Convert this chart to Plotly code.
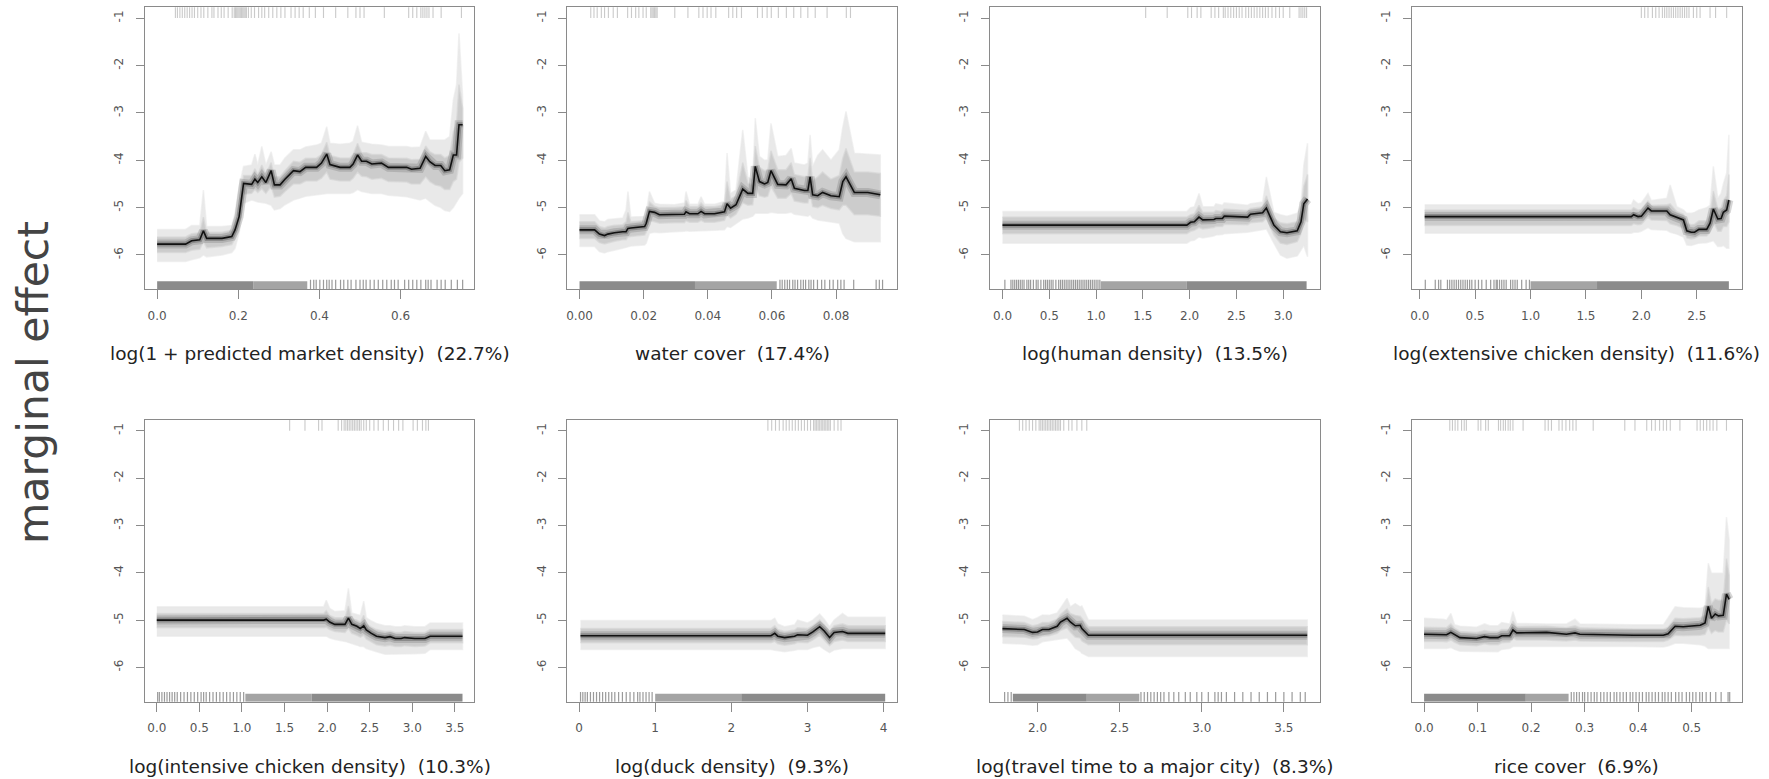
import plotly.graph_objects as go

# ---------------------------------------------------------------
# Partial-dependence data: covariate value, mean marginal effect,
# outer and inner quantile envelopes
# ---------------------------------------------------------------

# 1. log(1 + predicted market density)
market_x = [0.000, 0.070, 0.085, 0.105, 0.114, 0.122, 0.160, 0.184, 0.192, 0.202, 0.213, 0.233, 0.241, 0.248, 0.258,
            0.268, 0.281, 0.289, 0.303, 0.315, 0.336, 0.352, 0.366, 0.393, 0.405, 0.418, 0.426, 0.451, 0.475, 0.483,
            0.494, 0.504, 0.516, 0.529, 0.553, 0.570, 0.615, 0.627, 0.648, 0.662, 0.672, 0.685, 0.699, 0.709, 0.721,
            0.730, 0.738, 0.744, 0.753]
market_mean = [-5.77, -5.77, -5.70, -5.68, -5.49, -5.65, -5.65, -5.61, -5.47, -5.19, -4.49, -4.51, -4.40, -4.47, -4.35,
               -4.47, -4.22, -4.52, -4.52, -4.40, -4.22, -4.24, -4.15, -4.15, -4.06, -3.87, -4.09, -4.15, -4.15, -4.08,
               -3.89, -4.02, -4.02, -4.08, -4.06, -4.15, -4.15, -4.19, -4.17, -3.92, -4.03, -4.11, -4.11, -4.22, -4.20,
               -3.89, -3.89, -3.25, -3.25]
market_lo = [-6.14, -6.14, -6.10, -6.06, -6.00, -6.04, -6.00, -5.95, -5.86, -5.54, -4.91, -4.84, -4.86, -4.88, -4.90,
             -4.91, -4.95, -5.05, -5.02, -4.94, -4.84, -4.80, -4.76, -4.73, -4.72, -4.70, -4.70, -4.70, -4.70, -4.68,
             -4.62, -4.66, -4.68, -4.70, -4.70, -4.74, -4.77, -4.80, -4.84, -4.80, -4.87, -4.95, -5.00, -5.06, -5.08,
             -5.00, -4.90, -4.80, -4.70]
market_hi = [-5.46, -5.46, -5.38, -5.38, -4.63, -5.40, -5.40, -5.38, -5.12, -4.56, -4.13, -4.10, -3.87, -4.10, -3.71,
             -4.10, -3.82, -4.10, -4.10, -3.95, -3.78, -3.78, -3.72, -3.68, -3.64, -3.29, -3.64, -3.66, -3.64, -3.60,
             -3.27, -3.62, -3.64, -3.66, -3.68, -3.71, -3.71, -3.73, -3.72, -3.39, -3.57, -3.57, -3.57, -3.57, -3.50,
             -2.73, -2.40, -1.32, -2.65]
market_lo_in = [-5.95, -5.95, -5.90, -5.88, -5.72, -5.85, -5.82, -5.78, -5.65, -5.38, -4.72, -4.70, -4.62, -4.68, -4.60,
                -4.70, -4.55, -4.78, -4.76, -4.66, -4.50, -4.50, -4.44, -4.44, -4.38, -4.25, -4.40, -4.44, -4.44, -4.38,
                -4.25, -4.34, -4.35, -4.40, -4.38, -4.45, -4.46, -4.50, -4.50, -4.35, -4.45, -4.52, -4.55, -4.62, -4.62,
                -4.45, -4.40, -4.05, -3.95]
market_hi_in = [-5.62, -5.62, -5.55, -5.53, -5.20, -5.52, -5.52, -5.48, -5.30, -4.90, -4.32, -4.32, -4.18, -4.30, -4.10,
                -4.30, -4.05, -4.35, -4.35, -4.22, -4.02, -4.04, -3.96, -3.95, -3.88, -3.62, -3.90, -3.95, -3.95, -3.88,
                -3.64, -3.84, -3.84, -3.88, -3.88, -3.95, -3.96, -3.99, -3.98, -3.70, -3.82, -3.88, -3.88, -3.95, -3.90,
                -3.40, -3.20, -2.40, -2.90]

# 2. water cover
water_x = [0.0000, 0.0047, 0.0062, 0.0078, 0.0088, 0.0109, 0.0135, 0.0145, 0.0151, 0.0160, 0.0203, 0.0208, 0.0218,
           0.0234, 0.0249, 0.0296, 0.0327, 0.0332, 0.0343, 0.0369, 0.0379, 0.0390, 0.0421, 0.0452, 0.0460, 0.0471,
           0.0488, 0.0509, 0.0525, 0.0540, 0.0548, 0.0561, 0.0577, 0.0587, 0.0597, 0.0618, 0.0644, 0.0660, 0.0670,
           0.0701, 0.0712, 0.0719, 0.0727, 0.0743, 0.0758, 0.0784, 0.0810, 0.0821, 0.0831, 0.0857, 0.0899, 0.0938]
water_mean = [-5.47, -5.47, -5.56, -5.59, -5.56, -5.53, -5.51, -5.51, -5.44, -5.43, -5.40, -5.33, -5.08,
              -5.10, -5.15, -5.14, -5.14, -5.09, -5.13, -5.13, -5.08, -5.13, -5.13, -5.09, -4.92, -5.01,
              -4.94, -4.61, -4.70, -4.70, -4.13, -4.45, -4.50, -4.47, -4.22, -4.51, -4.52, -4.39, -4.59,
              -4.64, -4.64, -4.35, -4.73, -4.75, -4.68, -4.75, -4.77, -4.45, -4.35, -4.68, -4.68, -4.73]
water_hi = [-5.15, -5.15, -5.28, -5.30, -5.25, -5.23, -5.22, -5.05, -4.66, -5.20, -5.19, -5.10, -4.66,
            -4.91, -4.93, -4.94, -4.90, -4.66, -4.93, -4.93, -4.77, -4.93, -4.93, -4.87, -3.85, -4.70,
            -4.63, -3.36, -4.35, -4.42, -3.11, -3.92, -4.00, -3.99, -3.22, -3.92, -3.90, -3.75, -4.06,
            -4.10, -4.06, -3.46, -4.13, -3.90, -3.78, -4.00, -3.78, -3.30, -2.97, -3.85, -3.87, -3.89]
water_lo = [-5.82, -5.82, -5.93, -5.96, -5.93, -5.89, -5.86, -5.84, -5.82, -5.81, -5.79, -5.75, -5.54,
            -5.52, -5.53, -5.51, -5.50, -5.49, -5.50, -5.49, -5.48, -5.49, -5.48, -5.47, -5.40, -5.42,
            -5.35, -5.24, -5.22, -5.18, -5.12, -5.12, -5.12, -5.12, -5.10, -5.12, -5.12, -5.10, -5.14,
            -5.17, -5.18, -5.15, -5.22, -5.26, -5.27, -5.30, -5.33, -5.55, -5.65, -5.72, -5.72, -5.72]
water_lo_in = [-5.65, -5.65, -5.74, -5.77, -5.74, -5.71, -5.68, -5.68, -5.62, -5.61, -5.58, -5.52, -5.28,
               -5.30, -5.33, -5.32, -5.32, -5.28, -5.31, -5.31, -5.27, -5.31, -5.31, -5.27, -5.15, -5.22,
               -5.14, -4.90, -4.95, -4.94, -4.55, -4.75, -4.78, -4.76, -4.55, -4.80, -4.80, -4.70, -4.86,
               -4.90, -4.90, -4.70, -4.98, -5.00, -4.95, -5.02, -5.05, -4.95, -4.95, -5.15, -5.15, -5.18]
water_hi_in = [-5.30, -5.30, -5.40, -5.43, -5.40, -5.37, -5.36, -5.30, -5.10, -5.30, -5.27, -5.18, -4.88,
               -4.97, -5.00, -5.00, -4.98, -4.85, -4.98, -4.98, -4.90, -4.98, -4.98, -4.94, -4.45, -4.82,
               -4.75, -4.05, -4.48, -4.52, -3.70, -4.15, -4.22, -4.20, -3.80, -4.20, -4.20, -4.05, -4.30,
               -4.35, -4.33, -3.95, -4.43, -4.35, -4.25, -4.40, -4.32, -3.95, -3.75, -4.25, -4.25, -4.28]

# 3. log(human density)
human_x = [0.00, 1.97, 2.01, 2.05, 2.10, 2.14, 2.26, 2.28, 2.35, 2.37, 2.62, 2.65, 2.78, 2.82, 2.90, 2.97, 3.04,
           3.15, 3.19, 3.22, 3.26]
human_mean = [-5.37, -5.37, -5.31, -5.30, -5.20, -5.26, -5.25, -5.23, -5.23, -5.18, -5.20, -5.14, -5.11, -5.01,
              -5.37, -5.51, -5.53, -5.49, -5.30, -4.92, -4.82]
human_hi = [-5.08, -5.08, -5.00, -4.98, -4.70, -4.98, -4.98, -4.92, -4.95, -4.90, -4.95, -4.92, -4.88, -4.35,
            -5.10, -5.15, -5.18, -5.12, -4.95, -4.10, -3.64]
human_lo = [-5.75, -5.75, -5.70, -5.69, -5.62, -5.64, -5.60, -5.58, -5.57, -5.55, -5.52, -5.50, -5.47, -5.45,
            -5.75, -6.00, -6.07, -6.02, -5.90, -5.80, -6.04]
human_lo_in = [-5.55, -5.55, -5.50, -5.48, -5.42, -5.45, -5.42, -5.40, -5.40, -5.35, -5.36, -5.32, -5.30, -5.22,
               -5.58, -5.75, -5.78, -5.72, -5.55, -5.25, -5.30]
human_hi_in = [-5.20, -5.20, -5.15, -5.13, -4.95, -5.10, -5.10, -5.06, -5.08, -5.03, -5.06, -5.02, -4.98, -4.75,
               -5.22, -5.32, -5.34, -5.30, -5.10, -4.55, -4.30]

# 4. log(extensive chicken density)
ext_x = [0.045, 1.91, 1.93, 1.97, 2.00, 2.06, 2.09, 2.23, 2.26, 2.32, 2.38, 2.41, 2.45, 2.48, 2.52, 2.59, 2.62,
         2.65, 2.69, 2.72, 2.74, 2.77, 2.79]
ext_mean = [-5.19, -5.19, -5.15, -5.19, -5.18, -5.01, -5.07, -5.07, -5.15, -5.21, -5.26, -5.49, -5.52, -5.52,
            -5.46, -5.46, -5.33, -5.03, -5.24, -5.23, -5.10, -5.05, -4.84]
ext_hi = [-4.94, -4.94, -4.84, -4.92, -4.90, -4.70, -4.85, -4.80, -4.52, -4.98, -5.05, -5.12, -5.12, -5.10,
          -5.05, -5.00, -4.95, -4.13, -4.80, -4.70, -4.50, -4.27, -3.46]
ext_lo = [-5.54, -5.54, -5.52, -5.52, -5.50, -5.42, -5.46, -5.48, -5.52, -5.56, -5.62, -5.79, -5.80, -5.78,
          -5.75, -5.74, -5.72, -5.70, -5.82, -5.82, -5.80, -5.86, -5.86]
ext_lo_in = [-5.38, -5.38, -5.34, -5.36, -5.35, -5.20, -5.26, -5.27, -5.34, -5.38, -5.44, -5.64, -5.66, -5.65,
             -5.60, -5.60, -5.52, -5.30, -5.50, -5.50, -5.40, -5.40, -5.30]
ext_hi_in = [-5.05, -5.05, -5.00, -5.05, -5.04, -4.86, -4.95, -4.94, -4.92, -5.08, -5.14, -5.33, -5.36, -5.35,
             -5.28, -5.28, -5.15, -4.65, -5.02, -5.00, -4.85, -4.75, -4.30]

# 5. log(intensive chicken density)
int_x = [0.00, 1.96, 1.99, 2.03, 2.09, 2.21, 2.25, 2.29, 2.35, 2.39, 2.43, 2.46, 2.52, 2.58, 2.68, 2.74, 2.80,
         2.87, 2.91, 3.03, 3.15, 3.21, 3.59]
int_mean = [-5.00, -5.00, -4.98, -5.04, -5.09, -5.09, -4.96, -5.09, -5.13, -5.18, -5.12, -5.21, -5.28, -5.34,
            -5.37, -5.35, -5.39, -5.39, -5.37, -5.39, -5.39, -5.34, -5.34]
int_hi = [-4.72, -4.72, -4.58, -4.75, -4.82, -4.80, -4.33, -4.85, -4.88, -4.90, -4.60, -4.95, -5.02, -5.07,
          -5.12, -5.12, -5.14, -5.14, -5.12, -5.14, -5.14, -5.06, -5.06]
int_lo = [-5.34, -5.34, -5.34, -5.38, -5.41, -5.45, -5.48, -5.50, -5.53, -5.56, -5.56, -5.60, -5.64, -5.67,
          -5.72, -5.71, -5.72, -5.72, -5.71, -5.71, -5.70, -5.62, -5.62]
int_lo_in = [-5.16, -5.16, -5.15, -5.20, -5.24, -5.26, -5.18, -5.28, -5.32, -5.36, -5.32, -5.40, -5.46, -5.52,
             -5.55, -5.53, -5.56, -5.56, -5.54, -5.56, -5.55, -5.48, -5.48]
int_hi_in = [-4.86, -4.86, -4.80, -4.90, -4.95, -4.95, -4.70, -4.97, -5.00, -5.04, -4.90, -5.08, -5.15, -5.20,
             -5.24, -5.23, -5.26, -5.26, -5.24, -5.26, -5.26, -5.20, -5.20]

# 6. log(duck density)
duck_x = [0.02, 2.52, 2.57, 2.61, 2.70, 2.83, 2.87, 3.00, 3.07, 3.16, 3.22, 3.29, 3.35, 3.46, 3.53, 4.02]
duck_mean = [-5.33, -5.33, -5.28, -5.34, -5.37, -5.34, -5.31, -5.32, -5.25, -5.14, -5.23, -5.37, -5.26, -5.24,
             -5.28, -5.28]
duck_hi = [-5.01, -5.01, -4.96, -5.08, -5.14, -5.10, -5.00, -5.06, -5.00, -4.87, -4.98, -5.14, -5.00, -4.86,
           -4.94, -4.94]
duck_lo = [-5.62, -5.62, -5.64, -5.66, -5.67, -5.64, -5.62, -5.62, -5.58, -5.55, -5.62, -5.69, -5.63, -5.60,
           -5.60, -5.60]
duck_lo_in = [-5.48, -5.48, -5.45, -5.50, -5.53, -5.50, -5.47, -5.48, -5.42, -5.32, -5.42, -5.54, -5.45, -5.42,
              -5.45, -5.45]
duck_hi_in = [-5.18, -5.18, -5.12, -5.20, -5.24, -5.21, -5.16, -5.18, -5.12, -5.00, -5.10, -5.24, -5.12, -5.08,
              -5.12, -5.12]

# 7. log(travel time to a major city)
travel_x = [1.787, 1.92, 1.97, 2.00, 2.03, 2.07, 2.12, 2.14, 2.18, 2.20, 2.23, 2.26, 2.27, 2.31, 3.642]
travel_mean = [-5.18, -5.20, -5.26, -5.25, -5.20, -5.20, -5.13, -5.04, -4.96, -5.04, -5.12, -5.11, -5.18, -5.32, -5.32]
travel_hi = [-4.89, -4.92, -4.99, -4.95, -4.89, -4.90, -4.85, -4.75, -4.54, -4.72, -4.65, -4.72, -4.70, -5.00, -5.00]
travel_lo = [-5.49, -5.51, -5.53, -5.52, -5.46, -5.44, -5.42, -5.40, -5.38, -5.45, -5.60, -5.66, -5.70, -5.77, -5.77]
travel_lo_in = [-5.35, -5.36, -5.40, -5.39, -5.34, -5.33, -5.28, -5.22, -5.16, -5.25, -5.36, -5.38, -5.44, -5.52,
                -5.52]
travel_hi_in = [-5.03, -5.05, -5.12, -5.10, -5.05, -5.05, -4.98, -4.88, -4.76, -4.86, -4.90, -4.92, -4.96, -5.14,
                -5.14]

# 8. rice cover
rice_x = [0.000, 0.036, 0.042, 0.050, 0.057, 0.067, 0.098, 0.113, 0.123, 0.138, 0.145, 0.160, 0.166, 0.173, 0.229,
          0.266, 0.282, 0.291, 0.391, 0.447, 0.456, 0.469, 0.484, 0.516, 0.525, 0.531, 0.537, 0.544, 0.550, 0.559,
          0.565, 0.570]
rice_mean = [-5.30, -5.30, -5.31, -5.26, -5.31, -5.37, -5.39, -5.35, -5.37, -5.37, -5.33, -5.33, -5.21, -5.27, -5.26,
             -5.30, -5.27, -5.30, -5.32, -5.32, -5.29, -5.13, -5.14, -5.11, -5.06, -4.71, -4.96, -4.87, -4.91, -4.90,
             -4.45, -4.56]
rice_hi = [-4.96, -4.98, -5.00, -4.86, -5.10, -5.13, -5.15, -5.08, -5.12, -5.12, -5.05, -5.08, -4.82, -5.07, -5.08,
           -5.08, -4.98, -5.08, -5.10, -5.10, -4.95, -4.72, -4.74, -4.75, -4.72, -3.80, -4.01, -4.01, -4.01, -4.01,
           -2.82, -3.31]
rice_lo = [-5.60, -5.60, -5.60, -5.58, -5.62, -5.66, -5.67, -5.66, -5.67, -5.67, -5.62, -5.60, -5.56, -5.56, -5.56,
           -5.56, -5.56, -5.56, -5.56, -5.57, -5.55, -5.49, -5.49, -5.52, -5.55, -5.60, -5.60, -5.60, -5.60, -5.60,
           -5.60, -5.60]
rice_lo_in = [-5.45, -5.45, -5.46, -5.42, -5.47, -5.52, -5.54, -5.50, -5.52, -5.52, -5.48, -5.47, -5.38, -5.42, -5.42,
              -5.44, -5.42, -5.44, -5.45, -5.45, -5.42, -5.32, -5.33, -5.32, -5.30, -5.15, -5.28, -5.22, -5.25, -5.25,
              -5.00, -5.08]
rice_hi_in = [-5.15, -5.15, -5.16, -5.08, -5.17, -5.24, -5.26, -5.22, -5.24, -5.24, -5.20, -5.20, -5.02, -5.14, -5.13,
              -5.16, -5.12, -5.16, -5.19, -5.19, -5.15, -4.96, -4.97, -4.95, -4.90, -4.30, -4.65, -4.55, -4.58, -4.57,
              -3.70, -4.05]

# ---------------------------------------------------------------
# Rugs: occurrence sites (top) and background sites (bottom).
# Dense runs of background sites are given as [from, to] spans.
# ---------------------------------------------------------------
market_rug_top = [0.045, 0.05, 0.056, 0.062, 0.068, 0.074, 0.08, 0.086, 0.092, 0.1, 0.108, 0.115, 0.125, 0.135, 0.14,
                  0.15, 0.158, 0.165, 0.175, 0.185, 0.19, 0.193, 0.196, 0.199, 0.202, 0.205, 0.208, 0.211, 0.214,
                  0.217, 0.22, 0.225, 0.232, 0.24, 0.25, 0.258, 0.265, 0.275, 0.285, 0.295, 0.305, 0.315, 0.33, 0.34,
                  0.35, 0.36, 0.375, 0.39, 0.41, 0.44, 0.47, 0.49, 0.5, 0.51, 0.56, 0.62, 0.63, 0.64, 0.65, 0.655,
                  0.66, 0.665, 0.67, 0.68, 0.7, 0.75]
market_rug_bottom = [0.378, 0.386, 0.392, 0.401, 0.41, 0.418, 0.424, 0.431, 0.44, 0.452, 0.46, 0.47, 0.478, 0.49,
                     0.5, 0.508, 0.515, 0.525, 0.535, 0.545, 0.556, 0.566, 0.577, 0.585, 0.594, 0.61, 0.62, 0.63,
                     0.64, 0.65, 0.662, 0.668, 0.675, 0.69, 0.7, 0.71, 0.725, 0.74, 0.753]
market_span_dark = [[0.0, 0.237]]
market_span_light = [[0.237, 0.37]]

water_rug_top = [0.0035, 0.0045, 0.0055, 0.0068, 0.0078, 0.009, 0.0105, 0.0118, 0.015, 0.0162, 0.0175, 0.0185,
                 0.0198, 0.0208, 0.0222, 0.0226, 0.023, 0.0234, 0.0238, 0.0242, 0.0297, 0.0338, 0.0372, 0.0385,
                 0.0398, 0.041, 0.0425, 0.0465, 0.0478, 0.049, 0.0505, 0.0555, 0.057, 0.0585, 0.0598, 0.062,
                 0.0645, 0.0668, 0.069, 0.0712, 0.0735, 0.0772, 0.0832, 0.0845]
water_rug_bottom = [0.0625, 0.0632, 0.064, 0.0648, 0.0655, 0.0665, 0.0672, 0.068, 0.069, 0.0698, 0.0705, 0.0715,
                    0.0722, 0.073, 0.0742, 0.0755, 0.0765, 0.078, 0.0791, 0.0805, 0.0815, 0.0825, 0.0855, 0.0925,
                    0.0935, 0.0945]
water_span_dark = [[0.0, 0.036]]
water_span_light = [[0.036, 0.0615]]

human_rug_top = [1.53, 1.76, 1.98, 2.02, 2.08, 2.12, 2.23, 2.27, 2.31, 2.36, 2.38, 2.41, 2.44, 2.47, 2.5, 2.53, 2.56,
                 2.6, 2.63, 2.66, 2.69, 2.72, 2.75, 2.78, 2.81, 2.84, 2.88, 2.92, 2.96, 3.0, 3.07, 3.17, 3.19, 3.21,
                 3.23, 3.25]
human_rug_bottom = [0.025, 0.09, 0.11, 0.13, 0.15, 0.17, 0.19, 0.21, 0.23, 0.26, 0.28, 0.3, 0.33, 0.36, 0.38, 0.41,
                    0.44, 0.46, 0.48, 0.5, 0.52, 0.54, 0.57, 0.6, 0.62, 0.64, 0.66, 0.68, 0.7, 0.72, 0.74, 0.76, 0.78,
                    0.8, 0.82, 0.84, 0.86, 0.88, 0.9, 0.92, 0.94, 0.96, 0.98, 1.0, 1.02, 1.04]
human_span_dark = [[1.97, 3.25]]
human_span_light = [[1.05, 1.97]]

ext_rug_top = [2.0, 2.03, 2.06, 2.1, 2.13, 2.16, 2.19, 2.21, 2.23, 2.25, 2.27, 2.29, 2.31, 2.33, 2.35, 2.37, 2.39,
               2.41, 2.43, 2.47, 2.5, 2.53, 2.62, 2.67, 2.77]
ext_rug_bottom = [0.05, 0.14, 0.17, 0.19, 0.25, 0.27, 0.29, 0.31, 0.33, 0.35, 0.37, 0.39, 0.41, 0.43, 0.45, 0.47, 0.5,
                  0.53, 0.56, 0.6, 0.64, 0.67, 0.69, 0.7, 0.72, 0.74, 0.76, 0.78, 0.82, 0.84, 0.86, 0.88, 0.92, 0.96,
                  0.99]
ext_span_dark = [[1.6, 2.79]]
ext_span_light = [[1.0, 1.6]]

int_rug_top = [1.56, 1.74, 1.9, 1.94, 2.13, 2.17, 2.2, 2.22, 2.24, 2.26, 2.28, 2.3, 2.32, 2.34, 2.36, 2.38, 2.4, 2.43,
               2.46, 2.5, 2.55, 2.6, 2.66, 2.72, 2.78, 2.84, 2.89, 3.01, 3.06, 3.12, 3.16, 3.19]
int_rug_bottom = [0.01, 0.03, 0.06, 0.09, 0.12, 0.15, 0.18, 0.21, 0.24, 0.28, 0.32, 0.36, 0.4, 0.44, 0.48, 0.52, 0.55,
                  0.58, 0.62, 0.66, 0.7, 0.74, 0.78, 0.82, 0.86, 0.9, 0.94, 0.98, 1.02]
int_span_dark = [[1.82, 3.59]]
int_span_light = [[1.04, 1.82]]

duck_rug_top = [2.48, 2.53, 2.58, 2.63, 2.68, 2.72, 2.76, 2.8, 2.84, 2.88, 2.92, 2.96, 3.0, 3.04, 3.08, 3.1, 3.12,
                3.14, 3.16, 3.18, 3.2, 3.22, 3.24, 3.26, 3.28, 3.3, 3.35, 3.4, 3.44]
duck_rug_bottom = [0.02, 0.05, 0.08, 0.11, 0.15, 0.19, 0.23, 0.27, 0.31, 0.35, 0.39, 0.43, 0.47, 0.52, 0.57, 0.62,
                   0.67, 0.72, 0.77, 0.8, 0.84, 0.88, 0.92, 0.96]
duck_span_dark = [[2.13, 4.02]]
duck_span_light = [[1.0, 2.13]]

travel_rug_top = [1.89, 1.91, 1.93, 1.95, 1.97, 1.99, 2.01, 2.02, 2.03, 2.04, 2.05, 2.06, 2.07, 2.08, 2.09, 2.1, 2.11,
                  2.12, 2.13, 2.14, 2.16, 2.19, 2.21, 2.24, 2.27, 2.3]
travel_rug_bottom = [1.80, 1.82, 1.84, 2.63, 2.65, 2.67, 2.69, 2.71, 2.73, 2.75, 2.77, 2.8, 2.83, 2.86, 2.9, 2.93,
                     2.97, 3.0, 3.04, 3.08, 3.1, 3.12, 3.15, 3.2, 3.25, 3.3, 3.35, 3.4, 3.45, 3.5, 3.55, 3.6, 3.63]
travel_span_dark = [[1.85, 2.3]]
travel_span_light = [[2.3, 2.62]]

rice_rug_top = [0.048, 0.053, 0.058, 0.063, 0.07, 0.075, 0.079, 0.101, 0.106, 0.115, 0.12, 0.139, 0.143, 0.148,
                0.152, 0.157, 0.161, 0.166, 0.185, 0.226, 0.232, 0.238, 0.252, 0.258, 0.265, 0.272, 0.278, 0.284,
                0.316, 0.375, 0.394, 0.416, 0.425, 0.432, 0.44, 0.447, 0.453, 0.46, 0.478, 0.51, 0.516, 0.522,
                0.528, 0.534, 0.54, 0.547, 0.565]
rice_rug_bottom = [0.275, 0.28, 0.285, 0.29, 0.296, 0.3, 0.306, 0.312, 0.318, 0.323, 0.33, 0.336, 0.342, 0.348, 0.355,
                   0.36, 0.366, 0.372, 0.378, 0.385, 0.39, 0.396, 0.402, 0.408, 0.415, 0.42, 0.426, 0.432, 0.438,
                   0.445, 0.45, 0.456, 0.462, 0.47, 0.476, 0.482, 0.49, 0.496, 0.502, 0.508, 0.515, 0.52, 0.527,
                   0.535, 0.545, 0.555, 0.568, 0.571]
rice_span_dark = [[0.0, 0.19]]
rice_span_light = [[0.19, 0.27]]

# ---------------------------------------------------------------
# Axis titles, tick positions and x ranges
# ---------------------------------------------------------------
titles = [
    "log(1 + predicted market density)\u00a0 (22.7%)",
    "water cover\u00a0 (17.4%)",
    "log(human density)\u00a0 (13.5%)",
    "log(extensive chicken density)\u00a0 (11.6%)",
    "log(intensive chicken density)\u00a0 (10.3%)",
    "log(duck density)\u00a0 (9.3%)",
    "log(travel time to a major city)\u00a0 (8.3%)",
    "rice cover\u00a0 (6.9%)",
]
x_tick_values = [
    [0.0, 0.2, 0.4, 0.6],
    [0.00, 0.02, 0.04, 0.06, 0.08],
    [0.0, 0.5, 1.0, 1.5, 2.0, 2.5, 3.0],
    [0.0, 0.5, 1.0, 1.5, 2.0, 2.5],
    [0.0, 0.5, 1.0, 1.5, 2.0, 2.5, 3.0, 3.5],
    [0, 1, 2, 3, 4],
    [2.0, 2.5, 3.0, 3.5],
    [0.0, 0.1, 0.2, 0.3, 0.4, 0.5],
]
x_tick_decimals = [1, 2, 1, 1, 1, 0, 1, 1]
x_ranges = [
    [-0.0296, 0.7814],
    [-0.0038, 0.0990],
    [-0.132, 3.388],
    [-0.069, 2.906],
    [-0.137, 3.727],
    [-0.153, 4.175],
    [1.712, 3.717],
    [-0.0224, 0.5935],
]
y_tick_values = [-1, -2, -3, -4, -5, -6]
y_tick_text = ["-1", "-2", "-3", "-4", "-5", "-6"]
y_range = [-6.725, -0.77]

panels = [
    (market_x, market_mean, market_lo, market_hi, market_lo_in, market_hi_in,
     market_rug_top, market_rug_bottom, market_span_dark, market_span_light),
    (water_x, water_mean, water_lo, water_hi, water_lo_in, water_hi_in,
     water_rug_top, water_rug_bottom, water_span_dark, water_span_light),
    (human_x, human_mean, human_lo, human_hi, human_lo_in, human_hi_in,
     human_rug_top, human_rug_bottom, human_span_dark, human_span_light),
    (ext_x, ext_mean, ext_lo, ext_hi, ext_lo_in, ext_hi_in,
     ext_rug_top, ext_rug_bottom, ext_span_dark, ext_span_light),
    (int_x, int_mean, int_lo, int_hi, int_lo_in, int_hi_in,
     int_rug_top, int_rug_bottom, int_span_dark, int_span_light),
    (duck_x, duck_mean, duck_lo, duck_hi, duck_lo_in, duck_hi_in,
     duck_rug_top, duck_rug_bottom, duck_span_dark, duck_span_light),
    (travel_x, travel_mean, travel_lo, travel_hi, travel_lo_in, travel_hi_in,
     travel_rug_top, travel_rug_bottom, travel_span_dark, travel_span_light),
    (rice_x, rice_mean, rice_lo, rice_hi, rice_lo_in, rice_hi_in,
     rice_rug_top, rice_rug_bottom, rice_span_dark, rice_span_light),
]

# ---------------------------------------------------------------
# Layout geometry (pixels in a 1769 x 779 canvas)
# ---------------------------------------------------------------
W, H = 1769, 779
col_left = [143.3, 566.0, 989.3, 1411.7]
col_right = [472.7, 896.0, 1319.0, 1741.7]
row_top = [7.3, 420.0]
row_bottom = [289.3, 701.7]

RUG_BOTTOM_Y = -6.64
RUG_TOP_Y = -0.865

fig = go.Figure()
layout_axes = {}
annotations = []

for i, (x, mean, lo, hi, lo_in, hi_in, rug_top, rug_bottom, span_dark, span_light) in enumerate(panels):
    assert len(x) == len(mean) == len(lo) == len(hi) == len(lo_in) == len(hi_in), i
    r, c = divmod(i, 4)
    suffix = "" if i == 0 else str(i + 1)
    xref, yref = "x" + suffix, "y" + suffix

    # outer quantile band
    fig.add_trace(go.Scatter(x=list(x) + list(x)[::-1], y=list(hi) + list(lo)[::-1], fill="toself",
                             fillcolor="#e9e9e9", line=dict(width=1.5, color="rgba(233,233,233,0.6)"),
                             mode="lines", hoverinfo="skip", xaxis=xref, yaxis=yref))
    # inner quantile band
    fig.add_trace(go.Scatter(x=list(x) + list(x)[::-1], y=list(hi_in) + list(lo_in)[::-1], fill="toself",
                             fillcolor="#cccccc", line=dict(width=1.5, color="rgba(215,215,215,0.7)"),
                             mode="lines", hoverinfo="skip", xaxis=xref, yaxis=yref))
    # darker core around the mean curve
    for width, colour in [(9, "rgba(120,120,120,0.3)"), (5, "rgba(60,60,60,0.32)")]:
        fig.add_trace(go.Scatter(x=x, y=mean, mode="lines", line=dict(width=width, color=colour),
                                 hoverinfo="skip", xaxis=xref, yaxis=yref))
    # mean marginal effect
    fig.add_trace(go.Scatter(x=x, y=mean, mode="lines", line=dict(width=1.6, color="#111111"),
                             hoverinfo="skip", xaxis=xref, yaxis=yref))

    # bottom rug: dense spans and single ticks
    for spans, colour in [(span_light, "#a4a4a4"), (span_dark, "#8b8b8b")]:
        sx, sy = [], []
        for a, b in spans:
            sx += [a, b, None]
            sy += [RUG_BOTTOM_Y, RUG_BOTTOM_Y, None]
        fig.add_trace(go.Scatter(x=sx, y=sy, mode="lines", line=dict(width=8, color=colour),
                                 hoverinfo="skip", xaxis=xref, yaxis=yref))
    fig.add_trace(go.Scatter(x=rug_bottom, y=[RUG_BOTTOM_Y] * len(rug_bottom), mode="markers",
                             marker=dict(symbol="line-ns", size=8,
                                         line=dict(width=1.2, color="rgba(120,120,120,0.75)")),
                             hoverinfo="skip", xaxis=xref, yaxis=yref))
    # top rug
    fig.add_trace(go.Scatter(x=rug_top, y=[RUG_TOP_Y] * len(rug_top), mode="markers",
                             marker=dict(symbol="line-ns", size=9,
                                         line=dict(width=1.1, color="rgba(150,150,150,0.5)")),
                             hoverinfo="skip", xaxis=xref, yaxis=yref))

    xd = [col_left[c] / W, col_right[c] / W]
    yd = [1 - row_bottom[r] / H, 1 - row_top[r] / H]
    dec = x_tick_decimals[i]
    layout_axes["xaxis" + suffix] = dict(
        domain=xd, range=x_ranges[i], anchor=yref,
        tickmode="array", tickvals=x_tick_values[i],
        ticktext=[f"{v:.{dec}f}" for v in x_tick_values[i]],
        ticks="outside", ticklen=9, tickwidth=1, tickcolor="#8a8a8a",
        showline=True, mirror=True, linecolor="#8a8a8a", linewidth=1,
        showgrid=False, zeroline=False, ticklabelstandoff=6,
        tickfont=dict(size=12, color="#555555", family="DejaVu Sans"),
    )
    layout_axes["yaxis" + suffix] = dict(
        domain=yd, range=y_range, anchor=xref,
        tickmode="array", tickvals=y_tick_values, ticktext=y_tick_text,
        tickangle=-90,
        ticks="outside", ticklen=8, tickwidth=1, tickcolor="#8a8a8a",
        showline=True, mirror=True, linecolor="#8a8a8a", linewidth=1,
        showgrid=False, zeroline=False, ticklabelstandoff=8,
        tickfont=dict(size=12, color="#555555", family="DejaVu Sans"),
    )
    annotations.append(dict(
        text=titles[i], x=(xd[0] + xd[1]) / 2, y=yd[0], xref="paper", yref="paper",
        xanchor="center", yanchor="top", yshift=-52, showarrow=False,
        font=dict(size=18.5, color="#222222", family="DejaVu Sans"),
    ))

annotations.append(dict(
    text="marginal effect", x=32 / W, y=1 - 382 / H, xref="paper", yref="paper",
    xanchor="center", yanchor="middle", textangle=-90, showarrow=False,
    font=dict(size=42.5, color="#444444", family="DejaVu Sans"),
))

fig.update_layout(
    width=W, height=H,
    margin=dict(l=0, r=0, t=0, b=0),
    paper_bgcolor="white", plot_bgcolor="white",
    showlegend=False,
    font=dict(family="DejaVu Sans"),
    annotations=annotations,
    **layout_axes,
)

fig.write_html("out.html")
